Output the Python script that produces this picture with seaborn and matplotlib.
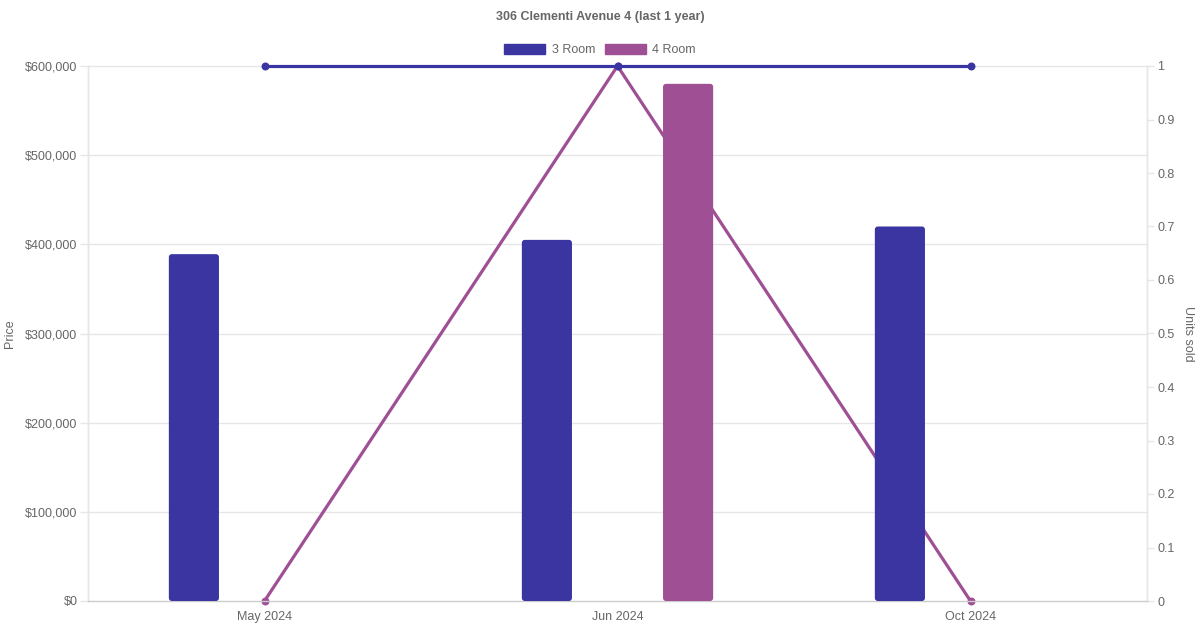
import matplotlib
matplotlib.use("Agg")
import matplotlib.pyplot as plt
import matplotlib.ticker as mticker
from matplotlib.patches import Patch, FancyBboxPatch
import seaborn as sns
import pandas as pd

months = ["May 2024", "Jun 2024", "Oct 2024"]
room_types = ["3 Room", "4 Room"]
price_3room = [389000, 405000, 420000]
price_4room = [None, 580000, None]
units_3room = [1, 1, 1]
units_4room = [0, 1, 0]
price_ticks = [0, 100000, 200000, 300000, 400000, 500000, 600000]
colors = {"3 Room": "#3a35a0", "4 Room": "#9f4f93"}

sns.set_theme(style="white")
plt.rcParams["font.family"] = ["Liberation Sans", "DejaVu Sans"]

rows = []
for m, p3, p4 in zip(months, price_3room, price_4room):
    if p3 is not None:
        rows.append({"month": m, "type": "3 Room", "price": p3})
    if p4 is not None:
        rows.append({"month": m, "type": "4 Room", "price": p4})
bars = pd.DataFrame(rows)

units = pd.DataFrame(
    [{"month": m, "type": "4 Room", "units": u} for m, u in zip(months, units_4room)]
    + [{"month": m, "type": "3 Room", "units": u} for m, u in zip(months, units_3room)]
)

fig = plt.figure(figsize=(12, 6.3), dpi=100)
ax_w_px, ax_h_px = 1147 - 88, 601 - 66
ax = fig.add_axes([88 / 1200, 1 - 601 / 630, ax_w_px / 1200, ax_h_px / 630])
ax2 = ax.twinx()

grey = "#666666"
gridc = "#e6e6e6"

# lines (behind bars); 4 Room first so 3 Room sits on top
sns.pointplot(data=units, x="month", y="units", hue="type", order=months,
              hue_order=["4 Room", "3 Room"], palette=colors, ax=ax2, dodge=False,
              markers="o", markersize=4, linewidth=2.3, errorbar=None, legend=False)
for art in list(ax2.lines) + list(ax2.collections):
    art.set_clip_on(False)
    art.set_zorder(2)

sns.barplot(data=bars, x="month", y="price", hue="type", order=months,
            hue_order=room_types, palette=colors, ax=ax, gap=0.645,
            saturation=1, legend=False, zorder=3)

ax.set_zorder(ax2.get_zorder() + 1)
ax.patch.set_visible(False)

ax.set_xlim(-0.5, 2.5)
ax2.set_xlim(-0.5, 2.5)
ax.set_ylim(0, 600000)
ax2.set_ylim(0, 1)

# price gridlines drawn beneath the unit lines (on the lower axes, in price coordinates)
for yv in price_ticks[1:]:
    ax2.plot([0, 1], [yv, yv], transform=ax.get_yaxis_transform(), color=gridc,
             linewidth=1, zorder=0.5, clip_on=False)

# rounded bar tops
x_per_px = 3 / ax_w_px
y_per_px = 600000 / ax_h_px
for p in list(ax.patches):
    if not hasattr(p, "get_width"):
        continue
    x0, y0, w, h = p.get_x(), p.get_y(), p.get_width(), p.get_height()
    if h <= 0 or w != w:
        continue
    fc = p.get_facecolor()
    rb = FancyBboxPatch((x0, y0), w, h,
                        boxstyle=f"round,pad=0,rounding_size={3 * x_per_px}",
                        mutation_aspect=y_per_px / x_per_px,
                        facecolor=fc, edgecolor="none", zorder=3)
    p.remove()
    ax.add_patch(rb)

ax.yaxis.set_major_locator(mticker.FixedLocator(price_ticks))
ax.yaxis.set_major_formatter(mticker.FuncFormatter(lambda v, p: f"${v:,.0f}"))
ax2.yaxis.set_major_locator(mticker.MultipleLocator(0.1))
ax2.yaxis.set_major_formatter(mticker.FuncFormatter(
    lambda v, p: (f"{v:.1f}".rstrip("0").rstrip(".") if abs(v) > 1e-9 else "0")))

ax.grid(False)
ax2.grid(False)

for a in (ax, ax2):
    for s in a.spines.values():
        s.set_color(gridc)
        s.set_linewidth(1)
    a.spines["top"].set_visible(False)
ax.spines["bottom"].set_color("#cccccc")
ax2.spines["bottom"].set_visible(False)

ax.tick_params(axis="y", colors=gridc, labelcolor=grey, labelsize=9, length=5.5, width=1, pad=2)
ax2.tick_params(axis="y", colors=gridc, labelcolor=grey, labelsize=9, length=5, width=1, pad=2.2)
ax.tick_params(axis="x", length=0, labelcolor=grey, labelsize=9, pad=7)
ax2.tick_params(axis="x", length=0, labelbottom=False)

ax.set_xlabel("")
ax2.set_xlabel("")
ax.set_ylabel("Price", color=grey, fontsize=9, ha="center", va="center")
ax2.set_ylabel("Units sold", color=grey, fontsize=9, rotation=270, ha="center", va="center")
ax.yaxis.set_label_coords((10 - 88) / ax_w_px, 0.5)
ax2.yaxis.set_label_coords((1188 - 88) / ax_w_px, 0.5)

fig.text(0.5, 1 - 17 / 630, "306 Clementi Avenue 4 (last 1 year)", ha="center", va="center",
         fontsize=9, fontweight="bold", color=grey)

handles = [Patch(facecolor=colors[t], edgecolor=colors[t], label=t) for t in room_types]
fig.legend(handles=handles, loc="center", bbox_to_anchor=(0.5, 1 - 50 / 630), ncol=2,
           frameon=False, fontsize=9, handlelength=3.3, handleheight=0.9,
           columnspacing=0.8, handletextpad=0.5, labelcolor=grey)

fig.savefig("out.png", dpi=100)
